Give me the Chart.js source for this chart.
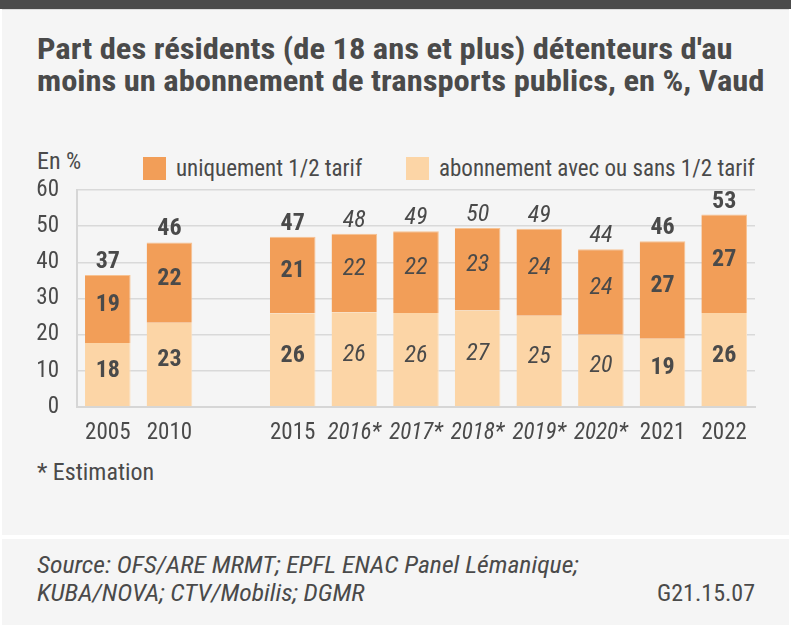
<!DOCTYPE html>
<html><head><meta charset="utf-8">
<script src="https://cdn.jsdelivr.net/npm/chart.js@4"></script>
<style>
html,body{margin:0;padding:0;background:#fff;width:793px;height:626px;overflow:hidden;}
body{font-family:"Roboto Condensed","DejaVu Sans Condensed",sans-serif;color:#4a4a4a;position:relative;}
.abs{position:absolute;white-space:nowrap;}
#topbar{left:0;top:0;width:791px;height:9px;background:#4b4b4b;}
#panel{left:2px;top:9px;width:787px;height:526px;background:#f5f5f5;border-top:1px solid #dcdcdc;box-sizing:border-box;}
#foot{left:2px;top:539px;width:787px;height:86px;background:#f5f5f5;}
#title{left:37px;top:33px;font-weight:bold;font-size:30px;line-height:32px;color:#4a4a4a;transform:scaleX(1.085);transform-origin:0 0;}
#enp{left:37px;top:147px;font-size:24px;line-height:28px;}
.lbox{width:23px;height:23px;top:157px;}
.ltxt{top:155px;font-size:23px;line-height:28px;}
#est{left:37px;top:458px;font-size:24px;line-height:28px;}
#src{left:37px;top:551px;font-size:24px;line-height:28px;font-style:italic;transform:scaleX(1.07);transform-origin:0 0;}
#code{right:38px;top:579px;font-size:24px;line-height:28px;}
#cv{position:absolute;left:0;top:150px;}
</style></head>
<body>
<div id="topbar" class="abs"></div>
<div id="panel" class="abs"></div>
<div id="foot" class="abs"></div>
<div id="title" class="abs">Part des résidents (de 18 ans et plus) détenteurs d'au<br>moins un abonnement de transports publics, en %, Vaud</div>
<div id="enp" class="abs">En %</div>
<div class="abs lbox" id="lb1" style="left:143px;background:#f29e58;"></div>
<div class="abs ltxt" id="lt1" style="left:176px;">uniquement 1/2 tarif</div>
<div class="abs lbox" id="lb2" style="left:406px;background:#fcd5a6;"></div>
<div class="abs ltxt" id="lt2" style="left:439px;">abonnement avec ou sans 1/2 tarif</div>
<div id="est" class="abs">* Estimation</div>
<div id="src" class="abs">Source: OFS/ARE MRMT; EPFL ENAC Panel Lémanique;<br>KUBA/NOVA; CTV/Mobilis; DGMR</div>
<div id="code" class="abs">G21.15.07</div>
<canvas id="cv" width="793" height="297"></canvas>
<script>
// Categories ('' = empty gap slot between 2010 and 2015)
const categories = ['2005','2010','','2015','2016*','2017*','2018*','2019*','2020*','2021','2022'];
// Estimated years (shown in italic)
const estimated = [false,false,false,false,true,true,true,true,true,false,false];
// Series values
const abonnement = [17.7, 23.3, null, 25.9, 26.2, 26.0, 26.7, 25.2, 20.0, 18.9, 26.0];
const demiTarif  = [18.8, 22.2, null, 21.2, 21.7, 22.6, 22.8, 24.1, 23.6, 26.9, 27.2];
// Published labels
const abonnementLabels = [18, 23, null, 26, 26, 26, 27, 25, 20, 19, 26];
const demiTarifLabels  = [19, 22, null, 21, 22, 22, 23, 24, 24, 27, 27];
const totalLabels      = [37, 46, null, 47, 48, 49, 50, 49, 44, 46, 53];
const yTicks = [0,10,20,30,40,50,60];

const FONT = '"Roboto Condensed","DejaVu Sans Condensed",sans-serif';
const TXT = '#4a4a4a';

const labelPlugin = {
  id:'labels',
  afterDatasetsDraw(chart){
    const ctx = chart.ctx;
    const m0 = chart.getDatasetMeta(0), m1 = chart.getDatasetMeta(1);
    const lab = [abonnementLabels, demiTarifLabels];
    ctx.save();
    ctx.fillStyle = TXT;
    ctx.textAlign = 'center';
    ctx.textBaseline = 'middle';
    const fontFor = i => (estimated[i] ? 'italic 400 24px ' : 'normal 700 24px ') + FONT;
    [m0,m1].forEach((meta,d)=>{
      meta.data.forEach((el,i)=>{
        if (lab[d][i]==null) return;
        ctx.font = fontFor(i);
        ctx.fillText(String(lab[d][i]), el.x, (el.y+el.base)/2 - 4);
      });
    });
    m1.data.forEach((el,i)=>{
      if (totalLabels[i]==null) return;
      ctx.font = fontFor(i);
      ctx.fillText(String(totalLabels[i]), el.x, el.y - 13);
    });
    ctx.restore();
  }
};

new Chart(document.getElementById('cv'), {
  type:'bar',
  data:{
    labels: categories,
    datasets:[
      {label:'abonnement avec ou sans 1/2 tarif', data: abonnement, backgroundColor:'#fcd5a6', borderColor:'#fde2c2', borderWidth:{right:1,top:0,left:0,bottom:0}, borderSkipped:false},
      {label:'uniquement 1/2 tarif', data: demiTarif, backgroundColor:'#f29e58', borderColor:'#f7c292', borderWidth:{right:1,top:1,left:0,bottom:0}, borderSkipped:false}
    ]
  },
  options:{
    responsive:false,
    animation:false,
    events:[],
    layout:{padding:{top:40,right:38,left:0,bottom:0}},
    datasets:{bar:{barPercentage:0.74, categoryPercentage:1}},
    plugins:{legend:{display:false}, tooltip:{enabled:false}, title:{display:false}},
    scales:{
      x:{
        stacked:true,
        grid:{display:false, drawTicks:false},
        border:{display:true, color:'#d6d6d6', width:2},
        ticks:{
          padding:12, color:TXT, maxRotation:0, autoSkip:false,
          font:(c)=>({family:FONT, size:23, style: estimated[c.index] ? 'italic':'normal'})
        },
        afterFit(s){ s.height = 40; }
      },
      y:{
        stacked:true, min:0, max:60,
        afterBuildTicks(s){ s.ticks = yTicks.map(v=>({value:v})); },
        grid:{color:'#d9d9d9', lineWidth:1.5, drawTicks:false},
        border:{display:true, color:'#d6d6d6', width:2},
        ticks:{padding:18, color:TXT, font:{family:FONT, size:23}},
        afterFit(s){ s.width = 77; }
      }
    }
  },
  plugins:[labelPlugin]
});
</script>
</body></html>
